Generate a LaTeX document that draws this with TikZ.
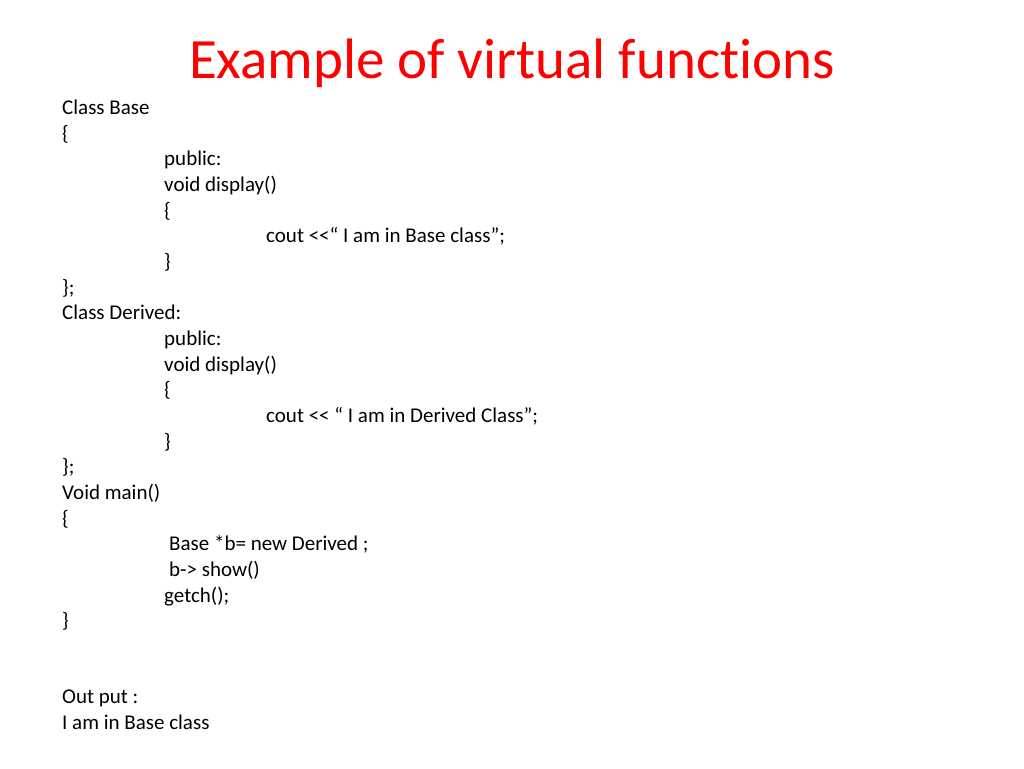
\documentclass[tikz,border=0pt]{standalone}
\usepackage{fontspec}
\setmainfont[Ligatures=NoCommon]{Carlito}
\begin{document}
\begin{tikzpicture}[x=1pt,y=-1pt,
  ln/.style={anchor=base west,inner sep=0pt,font=\fontsize{21}{24}\selectfont}]
\useasboundingbox (0,0) rectangle (1024,768);
\node[anchor=base,inner sep=0pt,text=red,font=\fontsize{57}{60}\selectfont] (title) at (512,78) {Example of virtual func\kern0ptti\kern0pton\kern0pts};
\node[ln] (a1) at (62,114) {Class Base};
\node[ln] (a2) at (62,140) {\{};
\node[ln] (a3) at (164,165) {public:};
\node[ln] (a4) at (164,191) {void display()};
\node[ln] (a5) at (164,217) {\{};
\node[ln] (a6) at (266,242) {cout <{}<“ I am in Base class”;};
\node[ln] (a7) at (164,268) {\}};
\node[ln] (a8) at (62,294) {\};};
\node[ln] (b1) at (62,319) {Class Derived:};
\node[ln] (b2) at (164,345) {public:};
\node[ln] (b3) at (164,371) {void display()};
\node[ln] (b4) at (164,396) {\{};
\node[ln] (b5) at (266,422) {cout <{}< “ I am in Derived Class”;};
\node[ln] (b6) at (164,448) {\}};
\node[ln] (b7) at (62,473) {\};};
\node[ln] (c1) at (62,499) {Void main()};
\node[ln] (c2) at (62,525) {\{};
\node[ln] (c3) at (169,550) {Base *b= new Derived ;};
\node[ln] (c4) at (169,576) {b-> show()};
\node[ln] (c5) at (164,602) {getch();};
\node[ln] (c6) at (62,627) {\}};
\node[ln] (d1) at (62,703) {Out put :};
\node[ln] (d2) at (62,729) {I am in Base class};
\end{tikzpicture}
\end{document}
